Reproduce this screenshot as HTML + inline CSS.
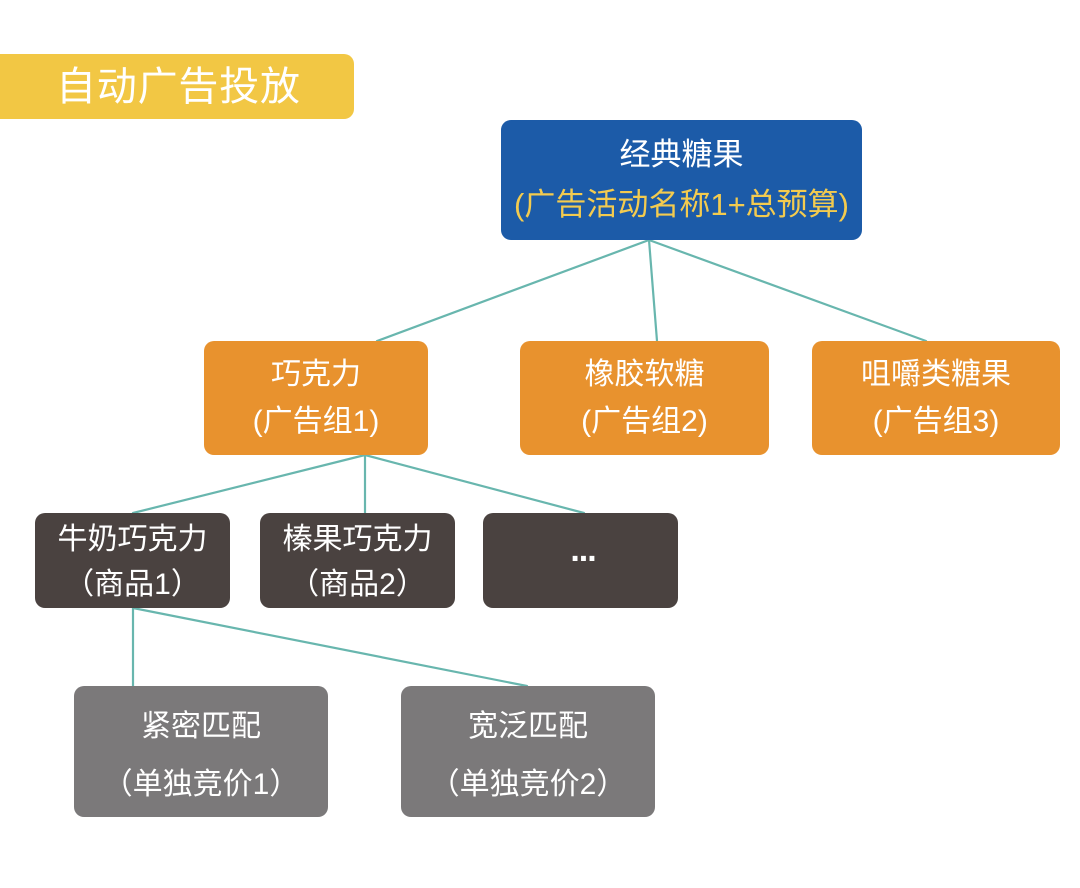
<!DOCTYPE html>
<html>
<head>
<meta charset="utf-8">
<style>
html,body{margin:0;padding:0;}
body{width:1080px;height:888px;background:#ffffff;position:relative;overflow:hidden;
font-family:"Liberation Sans","Noto Sans CJK SC",sans-serif;}
.box{position:absolute;border-radius:10px;}
.t{position:absolute;height:40px;line-height:40px;text-align:center;white-space:nowrap;color:#fff;font-size:30px;}
</style>
</head>
<body>
<svg width="1080" height="888" style="position:absolute;left:0;top:0" xmlns="http://www.w3.org/2000/svg">
  <g stroke="#68b6ae" stroke-width="2.2" fill="none" stroke-linecap="round">
    <line x1="649" y1="240" x2="377" y2="341"/>
    <line x1="649" y1="240" x2="657" y2="341"/>
    <line x1="649" y1="240" x2="926" y2="341"/>
    <line x1="365" y1="455" x2="133" y2="513"/>
    <line x1="365" y1="455" x2="365" y2="513"/>
    <line x1="365" y1="455" x2="584" y2="513"/>
    <line x1="133" y1="608" x2="133" y2="686"/>
    <line x1="133" y1="608" x2="527" y2="686"/>
  </g>
</svg>

<!-- title -->
<div class="box" style="left:0;top:54px;width:354px;height:65px;background:#f2c744;border-radius:0 10px 10px 0;"></div>
<div class="t" style="left:56px;top:64px;height:46px;line-height:46px;font-size:40px;text-align:left;letter-spacing:0.8px;">自动广告投放</div>

<!-- blue -->
<div class="box" style="left:501px;top:120px;width:361px;height:120px;background:#1c5ba8;"></div>
<div class="t" style="left:501px;width:361px;top:135px;font-size:31px;">经典糖果</div>
<div class="t" style="left:501px;width:361px;top:185px;font-size:31px;color:#f3cb4f;">(广告活动名称1+总预算)</div>

<!-- orange -->
<div class="box" style="left:204px;top:341px;width:224px;height:114px;background:#e8922e;"></div>
<div class="t" style="left:204px;width:224px;top:355px;">巧克力</div>
<div class="t" style="left:204px;width:224px;top:402px;">(广告组1)</div>

<div class="box" style="left:520px;top:341px;width:249px;height:114px;background:#e8922e;"></div>
<div class="t" style="left:520px;width:249px;top:355px;">橡胶软糖</div>
<div class="t" style="left:520px;width:249px;top:402px;">(广告组2)</div>

<div class="box" style="left:812px;top:341px;width:248px;height:114px;background:#e8922e;"></div>
<div class="t" style="left:812px;width:248px;top:355px;">咀嚼类糖果</div>
<div class="t" style="left:812px;width:248px;top:402px;">(广告组3)</div>

<!-- dark -->
<div class="box" style="left:35px;top:513px;width:195px;height:95px;background:#4a4240;"></div>
<div class="t" style="left:35px;width:195px;top:520px;">牛奶巧克力</div>
<div class="t" style="left:35px;width:195px;top:565px;">（商品1）</div>

<div class="box" style="left:260px;top:513px;width:195px;height:95px;background:#4a4240;"></div>
<div class="t" style="left:260px;width:195px;top:520px;">榛果巧克力</div>
<div class="t" style="left:260px;width:195px;top:565px;">（商品2）</div>

<div class="box" style="left:483px;top:513px;width:195px;height:95px;background:#4a4240;"></div>
<div class="t" style="left:483px;width:200px;top:530px;font-size:34px;font-weight:bold;letter-spacing:-1px;">...</div>

<!-- gray -->
<div class="box" style="left:74px;top:686px;width:254px;height:131px;background:#7b797a;"></div>
<div class="t" style="left:74px;width:254px;top:707px;">紧密匹配</div>
<div class="t" style="left:74px;width:254px;top:765px;">（单独竞价1）</div>

<div class="box" style="left:401px;top:686px;width:254px;height:131px;background:#7b797a;"></div>
<div class="t" style="left:401px;width:254px;top:707px;">宽泛匹配</div>
<div class="t" style="left:401px;width:254px;top:765px;">（单独竞价2）</div>
</body>
</html>
